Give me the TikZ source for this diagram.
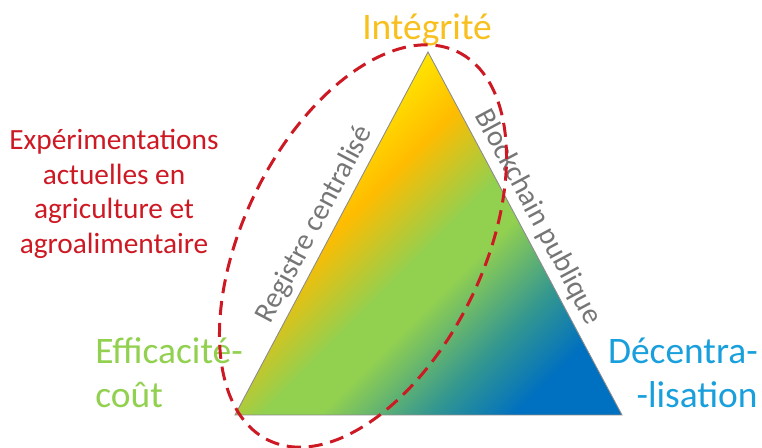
\documentclass[tikz,border=0pt]{standalone}
\usepackage{fontspec}
\setmainfont{Carlito}
\usepackage{tikz}
\usepackage{xcolor}

\definecolor{yelA}{RGB}{255,228,0}
\definecolor{orgA}{RGB}{255,188,0}
\definecolor{grnA}{RGB}{146,208,80}
\definecolor{tealA}{RGB}{50,150,145}
\definecolor{bluA}{RGB}{0,112,192}
\definecolor{redA}{RGB}{205,25,35}
\definecolor{goldA}{RGB}{248,192,30}
\definecolor{cyanA}{RGB}{25,160,220}
\definecolor{grayA}{RGB}{118,118,118}

\pgfdeclarehorizontalshading{trishade}{100bp}{color(0bp)=(yelA); color(33.5bp)=(yelA); color(38.5bp)=(orgA); color(45bp)=(grnA); color(48.5bp)=(grnA); color(55bp)=(tealA); color(60bp)=(bluA); color(100bp)=(bluA)}

\begin{document}
\begin{tikzpicture}[x=0.02cm, y=-0.02cm,
    cornerlbl/.style={inner sep=0pt, font=\fontsize{21.3}{25.5}\selectfont},
    edgelbl/.style={text=grayA, font=\fontsize{16.7}{20}\selectfont},
    redlbl/.style={text=redA, align=center, inner sep=0pt, font=\fontsize{16.7}{19.7}\selectfont}]
    \useasboundingbox (0,0) rectangle (762,448);

    \coordinate (top) at (428,52);
    \coordinate (bl) at (235,415);
    \coordinate (br) at (622,415);

    % triangle with gradient
    \begin{scope}
        \clip (top) -- (br) -- (bl) -- cycle;
        \shade[shading=trishade, shading angle=-45] (430,330) +(-300,-300) rectangle +(300,300);
    \end{scope}
    \draw[black!45, line width=0.5pt] (top) -- (br) -- (bl) -- cycle;

    \path (bl) -- (top) node[edgelbl, pos=0.5, sloped, above] (regcent) {Registre centralisé};
    \path (top) -- (br) node[edgelbl, pos=0.48, sloped, above] (blockpub) {Blockchain publique};

    \node[cornerlbl, text=goldA, anchor=base] (integ) at (427,40) {Intégrité};
    \node[cornerlbl, text=grnA, anchor=base west, align=left] (effic) at (95,408) {Efficacité-\\coût};
    \node[cornerlbl, text=cyanA, anchor=base east, align=right] (decent) at (758,408) {Décentra-\\-lisation};

    \node[redlbl] (expe) at (114,194) {Expérimentations\\actuelles en\\agriculture et\\agroalimentaire};

    % dashed ellipse
    \coordinate (ectr) at (363,246);
    \draw[redA, line width=1.7pt, dash pattern=on 8pt off 4.5pt, rotate around={64:(ectr)}] (ectr) ellipse (216 and 120);
\end{tikzpicture}
\end{document}
